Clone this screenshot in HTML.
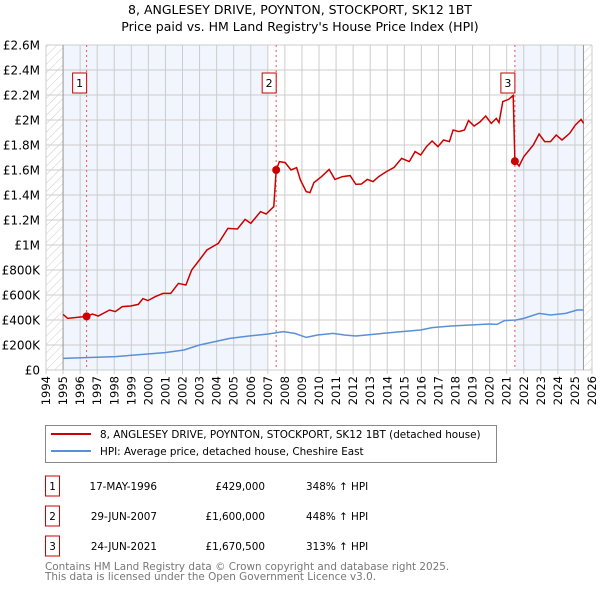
<!DOCTYPE html>
<html><head><meta charset="utf-8"><style>
body{margin:0;background:#fff;font-family:"Liberation Sans","DejaVu Sans",sans-serif;}
svg text{font-family:"DejaVu Sans","Liberation Sans",sans-serif;}
</style></head><body>
<svg id="c" width="600" height="590" xmlns="http://www.w3.org/2000/svg">
<defs><pattern id="hatch" width="6" height="6" patternUnits="userSpaceOnUse" patternTransform="rotate(45)"><line x1="0" y1="0" x2="0" y2="6" stroke="#ccc" stroke-width="1"/></pattern></defs>
<text x="300" y="14" text-anchor="middle" font-size="12.5">8, ANGLESEY DRIVE, POYNTON, STOCKPORT, SK12 1BT</text>
<text x="300" y="31" text-anchor="middle" font-size="12.5">Price paid vs. HM Land Registry's House Price Index (HPI)</text>
<g id="plot"></g>
<rect x="45.5" y="425.5" width="451" height="37" fill="#fff" stroke="#888"/>
<line x1="51" y1="434" x2="91" y2="434" stroke="#cc0000" stroke-width="2"/>
<text x="100" y="438" font-size="10.4">8, ANGLESEY DRIVE, POYNTON, STOCKPORT, SK12 1BT (detached house)</text>
<line x1="51" y1="451" x2="91" y2="451" stroke="#5b8fd6" stroke-width="2"/>
<text x="100" y="455" font-size="10.4">HPI: Average price, detached house, Cheshire East</text>
<g id="tbl" font-size="10.4"></g>
<text x="45" y="570" font-size="10.4" fill="#777">Contains HM Land Registry data © Crown copyright and database right 2025.</text>
<text x="45" y="580" font-size="10.4" fill="#777">This data is licensed under the Open Government Licence v3.0.</text>
</svg>
<script>
const redYears=[1995.0,1995.27,1995.83,1996.38,1996.72,1997.06,1997.73,1998.06,1998.47,1998.96,1999.41,1999.68,1999.97,2000.41,2000.86,2001.31,2001.76,2002.2,2002.54,2002.99,2003.43,2003.77,2004.1,2004.66,2005.22,2005.67,2006.0,2006.57,2006.9,2007.35,2007.49,2007.68,2008.02,2008.36,2008.69,2008.91,2009.25,2009.47,2009.7,2010.15,2010.59,2010.93,2011.38,2011.82,2012.16,2012.49,2012.83,2013.17,2013.5,2013.95,2014.4,2014.84,2015.29,2015.63,2015.96,2016.3,2016.63,2016.97,2017.3,2017.64,2017.86,2018.2,2018.53,2018.76,2019.09,2019.43,2019.77,2020.1,2020.39,2020.55,2020.77,2021.11,2021.38,2021.48,2021.73,2022.0,2022.56,2022.9,2023.23,2023.57,2023.9,2024.24,2024.69,2025.03,2025.36,2025.51];
const redValues=[445,413,421,429,448,432,480,467,507,512,525,571,555,587,613,613,693,680,800,880,960,987,1013,1133,1128,1205,1173,1267,1248,1307,1600,1667,1659,1600,1619,1520,1427,1419,1499,1547,1605,1525,1547,1555,1485,1488,1525,1507,1547,1587,1621,1693,1667,1747,1720,1787,1832,1787,1840,1827,1920,1907,1920,1995,1952,1984,2032,1973,2013,1979,2147,2165,2197,1670.5,1632,1707,1800,1888,1827,1827,1880,1840,1893,1960,2005,1973];
const hpiYears=[1995.0,1998.06,2000.97,2002.09,2002.99,2004.78,2005.9,2007.02,2007.91,2008.58,2009.25,2009.92,2010.82,2011.49,2012.16,2013.73,2014.84,2015.96,2016.63,2017.75,2018.87,2019.99,2020.43,2020.88,2021.55,2022.0,2022.9,2023.57,2024.46,2025.13,2025.51];
const hpiValues=[93,107,139,160,200,253,272,288,307,293,261,280,293,280,272,293,307,320,339,352,360,368,365,395,400,413,453,440,453,480,480];
const saleLabels=["1","2","3"];
const saleYears=[1996.38,2007.49,2021.48];
const saleValues=[429,1600,1670.5];
const saleDates=["17-MAY-1996","29-JUN-2007","24-JUN-2021"];
const salePrices=["£429,000","£1,600,000","£1,670,500"];
const salePcts=["348% ↑ HPI","448% ↑ HPI","313% ↑ HPI"];
const yTicks=[0,200,400,600,800,1000,1200,1400,1600,1800,2000,2200,2400,2600];
const yTickLabels=["£0","£200K","£400K","£600K","£800K","£1M","£1.2M","£1.4M","£1.6M","£1.8M","£2M","£2.2M","£2.4M","£2.6M"];
const xTicks=[];for(let y=1994;y<=2026;y++)xTicks.push(y);

const X0=46,X1=592,Y0=370,Y1=45;
const xs=y=>X0+(y-1994)/(32)*(X1-X0);
const ys=v=>Y0-v/2600*(Y0-Y1);
const NS="http://www.w3.org/2000/svg";
const g=document.getElementById('plot');
function mk(t,a,p){const e=document.createElementNS(NS,t);for(const k in a)e.setAttribute(k,a[k]);(p||g).appendChild(e);return e;}

mk('rect',{x:X0,y:Y1,width:X1-X0,height:Y0-Y1,fill:'#fff'});
let e=mk('rect',{x:xs(1994),y:Y1,width:xs(1995)-xs(1994),height:Y0-Y1,fill:'url(#hatch)'});


e=mk('rect',{x:xs(2025.5),y:Y1,width:X1-xs(2025.5),height:Y0-Y1,fill:'url(#hatch)'});


e=mk('rect',{x:xs(1995),y:Y1,width:xs(2007)-xs(1995),height:Y0-Y1,fill:'#f1f5fd'});


e=mk('rect',{x:xs(saleYears[2]),y:Y1,width:xs(2025.5)-xs(saleYears[2]),height:Y0-Y1,fill:'#f1f5fd'});



xTicks.forEach(t=>{
  const l=mk('line',{x1:xs(t),x2:xs(t),y1:Y1,y2:Y0+4,stroke:'#ccc'});
  
  
  const tx=mk('text',{x:0,y:0,'font-size':11.5,'text-anchor':'end',transform:`translate(${xs(t)+4},${Y0+6}) rotate(-90)`});
  tx.textContent=t;
  
  
});
yTicks.forEach((t,i)=>{
  const l=mk('line',{x1:X0,x2:X1,y1:ys(t),y2:ys(t),stroke:'#ccc'});
  
  
  const tx=mk('text',{x:40,y:ys(t)+4.5,'font-size':12,'text-anchor':'end'});
  tx.textContent=yTickLabels[i];
  
  
});
mk('line',{x1:xs(1995),x2:xs(1995),y1:Y1,y2:Y0,stroke:'#999'});
mk('line',{x1:xs(2025.5),x2:xs(2025.5),y1:Y1,y2:Y0,stroke:'#999'});

saleYears.forEach((y,i)=>{
  const l=mk('line',{x1:xs(y),x2:xs(y),y1:Y1,y2:Y0,stroke:'#e05a5a','stroke-dasharray':'2,3'});
  
  
  const r=mk('rect',{x:xs(y)-14,y:73,width:14,height:20,fill:'#fff',stroke:'#cc0000'});
  
  
  const t=mk('text',{x:xs(y)-7,y:87,'font-size':11,'text-anchor':'middle'});
  t.textContent=saleLabels[i];
  
  
});

const pts=(a,b)=>a.map((y,i)=>xs(y).toFixed(1)+','+ys(b[i]).toFixed(1)).join(' ');
e=mk('polyline',{points:pts(hpiYears,hpiValues),fill:'none',stroke:'#5b8fd6','stroke-width':1.5});


e=mk('polyline',{points:pts(redYears,redValues),fill:'none',stroke:'#cc0000','stroke-width':1.5});


saleYears.forEach((y,i)=>{
  const c=mk('circle',{cx:xs(y),cy:ys(saleValues[i]),r:4,fill:'#cc0000'});
  
  
});

const tb=document.getElementById('tbl');
saleLabels.forEach((s,i)=>{
  const yy=486+i*30;
  const r=mk('rect',{x:45.5,y:yy-10,width:14,height:20,fill:'#fff',stroke:'#cc0000'},tb);
  
  
  const a=mk('text',{x:52.5,y:yy+4,'text-anchor':'middle'},tb);a.textContent=s;
  
  
  const d=mk('text',{x:157,y:yy+4,'text-anchor':'end'},tb);d.textContent=saleDates[i];
  
  
  const p=mk('text',{x:265,y:yy+4,'text-anchor':'end'},tb);p.textContent=salePrices[i];
  
  
  const q=mk('text',{x:306,y:yy+4},tb);q.textContent=salePcts[i];
  
  
});
</script>
</body></html>
